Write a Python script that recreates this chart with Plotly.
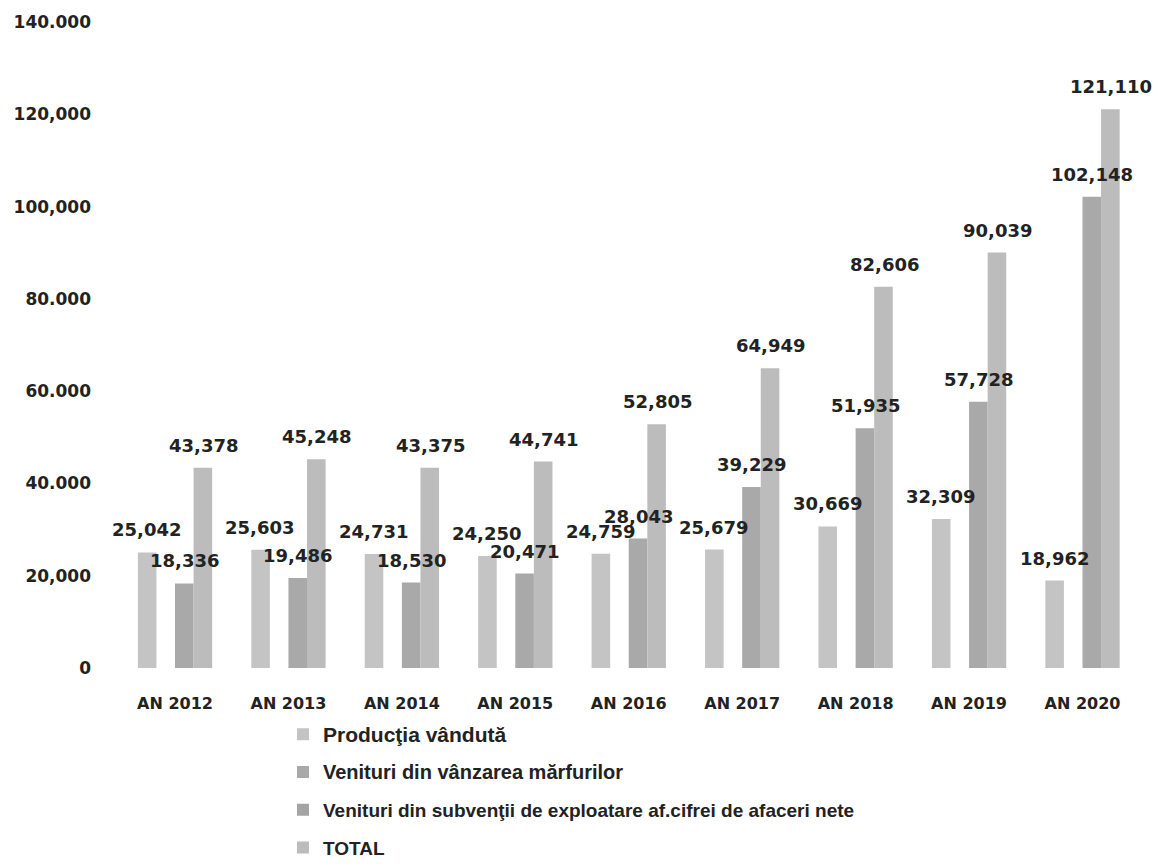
import plotly.graph_objects as go

categories = ["AN 2012", "AN 2013", "AN 2014", "AN 2015", "AN 2016",
              "AN 2017", "AN 2018", "AN 2019", "AN 2020"]
productia = [25042, 25603, 24731, 24250, 24759, 25679, 30669, 32309, 18962]
marfuri = [18336, 19486, 18530, 20471, 28043, 39229, 51935, 57728, 102148]
subventii = [0, 0, 0, 0, 0, 0, 0, 0, 0]
total = [43378, 45248, 43375, 44741, 52805, 64949, 82606, 90039, 121110]

tick_vals = [0, 20000, 40000, 60000, 80000, 100000, 120000, 140000]
tick_text = ["0", "20,000", "40.000", "60.000", "80.000", "100,000", "120,000", "140.000"]

names = ["Producţia vândută", "Venituri din vânzarea mărfurilor",
         "Venituri din subvenţii de exploatare af.cifrei de afaceri nete", "TOTAL"]
legend_sizes = [21, 20, 19, 19]


def legend_label(name, size):
    return f'<span style="font-size:{size}px">{name}</span>'


fig = go.Figure()
# draw order (slots): Producţia, subvenţii, mărfuri, TOTAL
series = [
    (0, productia, "#c4c4c4", 1, -28.5, True),
    (2, subventii, "#a4a4a4", 3, -9.5, False),
    (1, marfuri, "#a9a9a9", 2, 9.5, True),
    (3, total, "#bcbcbc", 4, 28.5, True),
]
for idx, vals, color, rank, _, _ in series:
    fig.add_trace(go.Bar(
        x=categories, y=vals, name=legend_label(names[idx], legend_sizes[idx]),
        marker=dict(color=color, line=dict(width=0)),
        legendrank=rank, legendgroup=names[idx],
    ))

for idx, vals, color, rank, shift, show in series:
    if not show:
        continue
    for c, v in zip(categories, vals):
        fig.add_annotation(
            x=c, y=v, xref="x", yref="y", text=f"{v:,}", showarrow=False,
            xshift=shift, yshift=10, yanchor="bottom",
            font=dict(family="DejaVu Sans", size=18, color="#222222", weight="bold"),
        )

fig.update_layout(
    width=1161, height=868,
    margin=dict(l=102, r=15, t=14, b=208, autoexpand=False),
    paper_bgcolor="white", plot_bgcolor="white",
    barmode="group", bargap=0.345, bargroupgap=0,
    showlegend=True,
    legend=dict(
        x=0.1657, y=-0.0735, xanchor="left", yanchor="top",
        orientation="v", traceorder="grouped", tracegroupgap=10,
        font=dict(family="Liberation Sans", size=19, color="#222222", weight="bold"),
        bgcolor="rgba(0,0,0,0)",
    ),
    xaxis=dict(
        showgrid=False, showline=False, zeroline=False, automargin=False,
        tickfont=dict(family="DejaVu Sans", size=16, color="#222222", weight="bold"),
        ticklabelstandoff=24, ticks="",
    ),
    yaxis=dict(
        range=[0, 140000], showgrid=False, showline=False, zeroline=False, automargin=False,
        tickvals=tick_vals, ticktext=tick_text,
        tickfont=dict(family="DejaVu Sans", size=17, color="#222222", weight="bold"),
        ticklabelstandoff=18, ticks="",
    ),
)

fig.write_html("out.html")
